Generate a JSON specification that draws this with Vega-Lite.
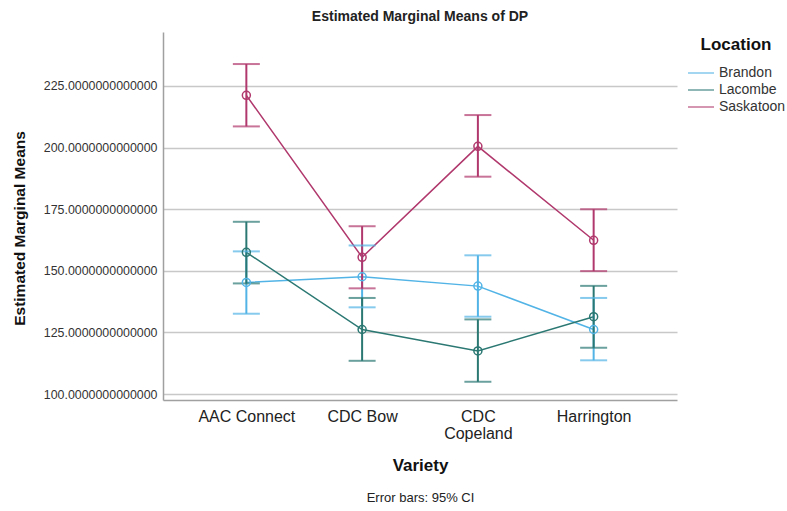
{
  "$schema": "https://vega.github.io/schema/vega-lite/v6.json",
  "width": 514,
  "height": 368,
  "autosize": {"type": "none"},
  "padding": {"left": 163, "top": 32, "right": 110, "bottom": 111},
  "background": "white",
  "title": {
    "text": "Estimated Marginal Means of DP",
    "fontSize": 14,
    "fontWeight": "bold",
    "color": "#222222",
    "anchor": "middle",
    "offset": 8
  },
  "config": {
    "font": "Liberation Sans",
    "view": {"stroke": null}
  },
  "data": {
    "values": [
      {"Variety": "AAC Connect", "Location": "Brandon", "mean": 145.3, "lo": 132.6, "hi": 157.9},
      {"Variety": "CDC Bow", "Location": "Brandon", "mean": 147.6, "lo": 135.2, "hi": 160.3},
      {"Variety": "CDC Copeland", "Location": "Brandon", "mean": 143.8, "lo": 131.4, "hi": 156.3},
      {"Variety": "Harrington", "Location": "Brandon", "mean": 126.2, "lo": 113.7, "hi": 139.0},
      {"Variety": "AAC Connect", "Location": "Lacombe", "mean": 157.5, "lo": 144.9, "hi": 169.9},
      {"Variety": "CDC Bow", "Location": "Lacombe", "mean": 126.2, "lo": 113.5, "hi": 139.0},
      {"Variety": "CDC Copeland", "Location": "Lacombe", "mean": 117.5, "lo": 105.0, "hi": 130.3},
      {"Variety": "Harrington", "Location": "Lacombe", "mean": 131.4, "lo": 118.8, "hi": 143.9},
      {"Variety": "AAC Connect", "Location": "Saskatoon", "mean": 221.2, "lo": 208.6, "hi": 233.9},
      {"Variety": "CDC Bow", "Location": "Saskatoon", "mean": 155.5, "lo": 142.9, "hi": 168.1},
      {"Variety": "CDC Copeland", "Location": "Saskatoon", "mean": 200.5, "lo": 188.2, "hi": 213.2},
      {"Variety": "Harrington", "Location": "Saskatoon", "mean": 162.4, "lo": 149.9, "hi": 175.0}
    ]
  },
  "encoding": {
    "x": {"field": "Variety", "type": "nominal", "sort": null, "scale": {"type": "point", "padding": 0.72}, "axis": null},
    "color": {
      "field": "Location",
      "type": "nominal",
      "scale": {"domain": ["Brandon", "Lacombe", "Saskatoon"], "range": ["#52b4e6", "#2b7873", "#b0386c"]},
      "legend": {
        "title": "Location",
        "orient": "right",
        "offset": 5,
        "padding": 5,
        "titleFontSize": 17,
        "titleFontWeight": "bold",
        "titleColor": "#111111",
        "titleAnchor": "middle",
        "titlePadding": 12,
        "labelFontSize": 14,
        "labelColor": "#333333",
        "symbolType": "stroke",
        "symbolSize": 676,
        "symbolStrokeWidth": 1.5,
        "clipHeight": 14,
        "rowPadding": 3,
        "labelOffset": 4
      }
    }
  },
  "layer": [
    {
      "mark": {"type": "line", "strokeWidth": 1.5},
      "encoding": {
        "x": {
          "field": "Variety", "type": "nominal", "sort": null,
          "scale": {"type": "point", "padding": 0.72},
          "axis": {
            "title": "Variety",
            "orient": "bottom",
            "titleFontSize": 17,
            "titleFontWeight": "bold",
            "titleColor": "#111111",
            "titlePadding": 16,
            "labelFontSize": 16,
            "labelColor": "#222222",
            "labelPadding": 8,
            "labelAngle": 0,
            "labelLineHeight": 17,
            "labelExpr": "datum.label == 'CDC Copeland' ? ['CDC', 'Copeland'] : datum.label",
            "ticks": false,
            "grid": false,
            "domainColor": "#a0a0a0",
            "domainWidth": 1.5
          }
        },
        "y": {
          "field": "mean", "type": "quantitative",
          "title": "Estimated Marginal Means",
          "scale": {"domain": [97.6, 246.9], "nice": false, "zero": false},
          "axis": {
            "values": [100, 125, 150, 175, 200, 225],
            "format": ".13f",
            "labelFontSize": 12.4,
            "labelColor": "#333333",
            "labelPadding": 6,
            "ticks": false,
            "grid": true,
            "gridColor": "#c8c8c8",
            "gridWidth": 1.5,
            "domainColor": "#a0a0a0",
            "domainWidth": 1.5,
            "titleFontSize": 15.5,
            "titleFontWeight": "bold",
            "titleColor": "#111111",
            "titlePadding": 16,
            "titleY": 196
          }
        }
      }
    },
    {
      "mark": {"type": "rule", "strokeWidth": 2},
      "encoding": {
        "y": {"field": "lo", "type": "quantitative", "title": "Estimated Marginal Means"},
        "y2": {"field": "hi"}
      }
    },
    {
      "mark": {"type": "tick", "size": 27, "thickness": 2},
      "encoding": {
        "y": {"field": "lo", "type": "quantitative", "title": "Estimated Marginal Means"}
      }
    },
    {
      "mark": {"type": "tick", "size": 27, "thickness": 2},
      "encoding": {
        "y": {"field": "hi", "type": "quantitative", "title": "Estimated Marginal Means"}
      }
    },
    {
      "mark": {"type": "point", "filled": false, "size": 64, "strokeWidth": 1.5, "opacity": 1},
      "encoding": {
        "x": {
          "field": "Variety", "type": "nominal", "sort": null,
          "scale": {"type": "point", "padding": 0.72},
          "axis": {
            "title": "Error bars: 95% CI",
            "orient": "bottom",
            "labels": false,
            "ticks": false,
            "domain": false,
            "grid": false,
            "titleFontSize": 13,
            "titleFontWeight": "normal",
            "titleColor": "#222222",
            "titlePadding": 91
          }
        },
        "y": {"field": "mean", "type": "quantitative", "title": "Estimated Marginal Means"}
      }
    }
  ],
  "resolve": {"axis": {"x": "independent"}}
}
